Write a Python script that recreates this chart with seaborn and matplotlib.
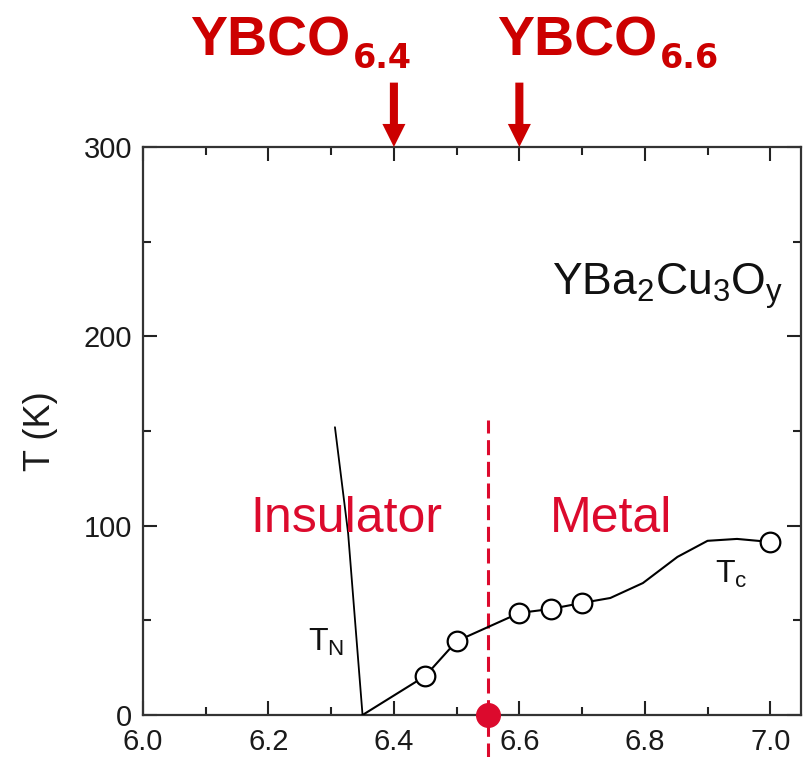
import matplotlib
matplotlib.use("Agg")
import matplotlib.pyplot as plt
import seaborn as sns
import pandas as pd

# Tc(y) measured points (open circles)
tc_x = [6.45, 6.50, 6.60, 6.65, 6.70, 7.00]
tc_T = [20.6, 39.0, 53.9, 56.0, 59.2, 91.4]

# Tc(y) guide line through the dome
tc_line_x = [6.35, 6.45, 6.50, 6.60, 6.65, 6.70, 6.745, 6.797, 6.852, 6.90, 6.947, 7.00]
tc_line_T = [0.0, 20.6, 39.0, 53.9, 56.0, 59.2, 61.8, 69.7, 83.5, 92.0, 93.0, 91.4]

# Neel temperature line
tn_x = [6.350, 6.338, 6.327, 6.306]
tn_T = [0.0, 50.0, 96.0, 152.0]

# Insulator-metal boundary
y_critical = 6.55
boundary_top = 156

# Doping levels marked above the plot
marked_y = [6.4, 6.6]
marked_sub = ["6.4", "6.6"]

x_ticks = [6.0, 6.2, 6.4, 6.6, 6.8, 7.0]
y_ticks = [0, 100, 200, 300]

RED = "#dc0a2d"
DARK_RED = "#cc0000"

sns.set_theme(style="ticks")
plt.rcParams["font.family"] = ["Liberation Sans", "DejaVu Sans"]
plt.rcParams["mathtext.fontset"] = "custom"
plt.rcParams["mathtext.rm"] = "Liberation Sans"
plt.rcParams["mathtext.it"] = "Liberation Sans:italic"
plt.rcParams["mathtext.bf"] = "Liberation Sans:bold"
plt.rcParams["lines.scale_dashes"] = False

W, H = 806, 757
fig = plt.figure(figsize=(W / 100, H / 100), dpi=100)
fig.patch.set_facecolor("white")
ax = fig.add_axes([143 / W, 1 - 715 / H, (801 - 143) / W, (715 - 147) / H])
ax.set_facecolor("white")

df_line = pd.DataFrame({"y": tc_line_x, "T": tc_line_T})
df_pts = pd.DataFrame({"y": tc_x, "T": tc_T})
df_tn = pd.DataFrame({"y": tn_x, "T": tn_T})

sns.lineplot(data=df_line, x="y", y="T", ax=ax, color="black", lw=1.5,
             sort=False, estimator=None, zorder=3)
sns.lineplot(data=df_tn, x="y", y="T", ax=ax, color="black", lw=1.3,
             sort=False, estimator=None, zorder=3)
sns.scatterplot(data=df_pts, x="y", y="T", ax=ax, s=200, facecolor="white",
                edgecolor="black", linewidth=1.6, zorder=4)

# dashed boundary, running past the axis down to the figure edge
ax.plot([y_critical, y_critical], [-30, boundary_top], color=RED, lw=2.2,
        dashes=(10.8, 4.8), clip_on=False, zorder=2)
ax.plot([y_critical], [0], "o", color=RED, ms=17, clip_on=False, zorder=6)

ax.set_xlim(6.0, 7.049)
ax.set_ylim(0, 300)
ax.set_xticks(x_ticks)
ax.set_xticklabels([f"{v:.1f}" for v in x_ticks])
ax.set_yticks(y_ticks)
ax.set_xticks([6.1, 6.3, 6.5, 6.7, 6.9], minor=True)
ax.set_yticks([50, 150, 250], minor=True)
ax.tick_params(which="both", direction="in", top=True, right=True,
               color="#222222", width=1.5, labelsize=21, labelcolor="#1a1a1a")
ax.tick_params(which="major", length=10)
ax.tick_params(which="minor", length=6)
ax.tick_params(axis="x", pad=9)
ax.tick_params(axis="y", pad=8)
for s in ax.spines.values():
    s.set_color("#333333")
    s.set_linewidth(1.6)

ax.set_xlabel("")
ax.set_ylabel("T (K)", fontsize=26, color="#1a1a1a", labelpad=18)

ax.text(6.325, 103.5, "Insulator", color=RED, fontsize=36, ha="center", va="center")
ax.text(6.746, 103.5, "Metal", color=RED, fontsize=36, ha="center", va="center")
ax.text(6.652, 222, r"YBa$_\mathrm{2}$Cu$_\mathrm{3}$O$_\mathrm{y}$", fontsize=32,
        color="#111111", ha="left", va="baseline")
ax.text(6.263, 34, r"T$_\mathrm{N}$", fontsize=23, color="#111111",
        ha="left", va="baseline")
ax.text(6.912, 70, r"T$_\mathrm{c}$", fontsize=23, color="#111111",
        ha="left", va="baseline")

# arrows pointing at the two doping levels
for yv in marked_y:
    ax.annotate("", xy=(yv, 300), xytext=(yv, 334),
                arrowprops=dict(arrowstyle="simple,head_length=16.6,head_width=16.6,tail_width=5.8",
                                mutation_scale=1, color=DARK_RED, shrinkA=0, shrinkB=0,
                                lw=0),
                annotation_clip=False)

# YBCO labels with subscripts
fig.canvas.draw()
renderer = fig.canvas.get_renderer()
for left_px, sub in zip([190, 497], marked_sub):
    t = fig.text(left_px / W, 1 - 55 / H, "YBCO", fontsize=40, fontweight="bold",
                 color=DARK_RED, ha="left", va="baseline",
                 family=["Liberation Sans", "DejaVu Sans"])
    bb = t.get_window_extent(renderer)
    fig.text((bb.x1 + 3) / W, 1 - 68 / H, sub, fontsize=24, fontweight="bold",
             color=DARK_RED, ha="left", va="baseline", family=["DejaVu Sans"])

fig.savefig("out.png", dpi=100, facecolor="white")
